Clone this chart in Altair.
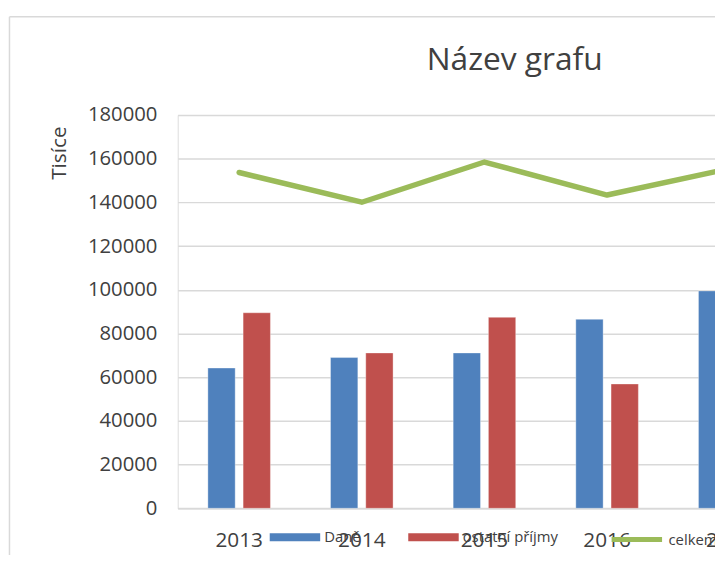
import altair as alt
import pandas as pd

years = ["2013", "2014", "2015", "2016", "2017"]
dane = [64200, 69000, 71100, 86500, 99500]
ostatni = [89500, 71100, 87400, 56900, 56000]
celkem = [153700, 140100, 158500, 143400, 155500]

bar_names = ["Daně", "ostatní příjmy"]
bar_colors = ["#4F81BD", "#C0504D"]
line_name = ["celkem"]
line_color = ["#9BBB59"]
y_ticks = [0, 20000, 40000, 60000, 80000, 100000, 120000, 140000, 160000, 180000]

bars_df = pd.DataFrame(
    {
        "rok": years * 2,
        "serie": ["Daně"] * len(years) + ["ostatní příjmy"] * len(years),
        "hodnota": dane + ostatni,
    }
)
line_df = pd.DataFrame({"rok": years, "serie2": line_name * len(years), "hodnota": celkem})

FONT = "Open Sans"
TXT = "#404040"
GRID = "#d9d9d9"

x_scale = alt.Scale(domain=years, range=[0, 620], paddingInner=0.49, paddingOuter=0.246)
y_scale = alt.Scale(domain=[0, 180000], nice=False)

bar_path = "M-1,-0.16L1,-0.16L1,0.16L-1,0.16Z"

legend_common = dict(
    orient="none",
    direction="horizontal",
    title=None,
    symbolSize=2601,
    symbolOpacity=1,
    labelFont=FONT,
    labelFontSize=15,
    labelColor=TXT,
    labelOffset=4,
    columnPadding=48,
    padding=0,
)

color = alt.Color(
    "serie:N",
    scale=alt.Scale(domain=bar_names, range=bar_colors),
    legend=alt.Legend(
        legendX=93,
        legendY=401,
        symbolType=bar_path,
        symbolStrokeWidth=0,
        **legend_common,
    ),
)

stroke = alt.Stroke(
    "serie2:N",
    scale=alt.Scale(domain=line_name, range=line_color),
    legend=alt.Legend(
        legendX=436,
        legendY=401,
        symbolType="stroke",
        symbolStrokeWidth=5,
        **legend_common,
    ),
)

x_axis = alt.Axis(
    title=None,
    labelAngle=0,
    ticks=False,
    grid=False,
    domainColor=GRID,
    domainWidth=1.5,
    labelPadding=22,
    labelFont=FONT,
    labelFontSize=21,
    labelColor=TXT,
)
y_axis = alt.Axis(
    values=y_ticks,
    format="d",
    title="Tisíce",
    titleFont=FONT,
    titleFontSize=21,
    titleFontWeight="normal",
    titleColor=TXT,
    titleAngle=270,
    titleAlign="center",
    titleBaseline="middle",
    titleX=-119,
    titleY=38,
    domain=False,
    ticks=False,
    gridColor=GRID,
    gridWidth=1.5,
    labelPadding=21,
    labelFont=FONT,
    labelFontSize=20.5,
    labelColor=TXT,
)

frame_df = pd.DataFrame({"a": [0]})
frame_left = alt.Chart(frame_df).mark_rule(color=GRID, strokeWidth=1.5).encode(
    x=alt.value(-170), y=alt.value(-99.3), y2=alt.value(470)
)
frame_top = alt.Chart(frame_df).mark_rule(color=GRID, strokeWidth=1.5).encode(
    x=alt.value(-170), x2=alt.value(600), y=alt.value(-99.3)
)

bars = alt.Chart(bars_df).mark_bar(stroke="white", strokeOpacity=0.35, strokeWidth=1).encode(
    x=alt.X("rok:N", scale=x_scale, axis=x_axis, sort=years),
    xOffset=alt.XOffset("serie:N", sort=bar_names, scale=alt.Scale(paddingInner=0.225, paddingOuter=0)),
    y=alt.Y("hodnota:Q", scale=y_scale, axis=y_axis),
    color=color,
)

line = alt.Chart(line_df).mark_line(strokeWidth=5.5, strokeCap="round", strokeJoin="round").encode(
    x=alt.X("rok:N", scale=x_scale, sort=years),
    y=alt.Y("hodnota:Q", scale=y_scale),
    stroke=stroke,
)

chart = (
    alt.layer(frame_left, frame_top, bars, line)
    .properties(
        width=543,
        height=397.4,
        autosize=alt.AutoSizeParams(type="none"),
        padding={"left": 171.5, "top": 105.3, "right": 0, "bottom": 44},
        title=alt.TitleParams(
            text="Název grafu",
            font=FONT,
            fontSize=32,
            fontWeight="normal",
            color=TXT,
            anchor="middle",
            frame="group",
            dx=69,
            dy=88,
            offset=26,
        ),
    )
    .configure_view(stroke=None)
    .configure(background="white")
)

chart.save("out.html", embed_options={"renderer": "svg", "actions": False})
